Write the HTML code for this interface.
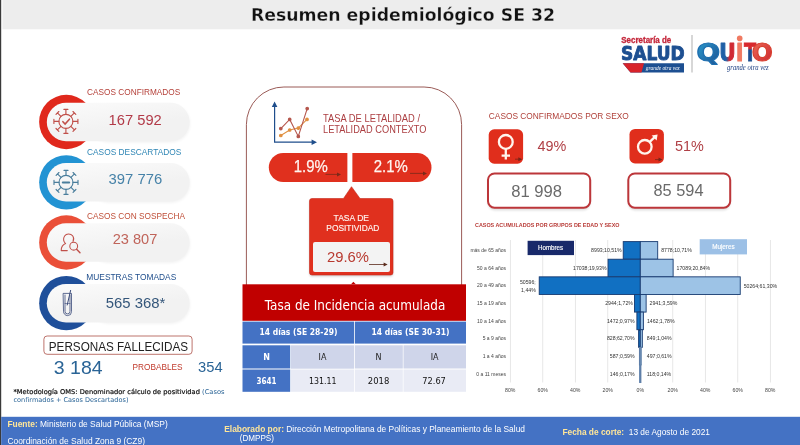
<!DOCTYPE html>
<html lang="es"><head><meta charset="utf-8"><title>Resumen epidemiológico SE 32</title>
<style>
html,body{margin:0;padding:0;background:#fff;}
body{width:800px;height:445px;overflow:hidden;position:relative;}
svg{position:absolute;left:0;top:0;display:block;}
text{white-space:pre;}
</style></head><body>
<svg width="800" height="445" viewBox="0 0 800 445">
<defs>
<filter id="sh" x="-10%" y="-20%" width="120%" height="150%"><feGaussianBlur stdDeviation="1.6"/></filter>
<filter id="sh2" x="-10%" y="-10%" width="120%" height="130%"><feGaussianBlur stdDeviation="1.2"/></filter>
<linearGradient id="pill" x1="0" x2="0.5" y1="0" y2="1"><stop offset="0" stop-color="#fbfbfb"/><stop offset="0.7" stop-color="#f2f2f2"/></linearGradient>
<linearGradient id="ban" x1="0" x2="1" y1="0" y2="0"><stop offset="0" stop-color="#d8232a"/><stop offset="1" stop-color="#c02030"/></linearGradient>
<linearGradient id="qb" x1="0" x2="1" y1="0" y2="1"><stop offset="0" stop-color="#2a9fd0"/><stop offset="1" stop-color="#1d4f91"/></linearGradient>
<linearGradient id="qu" x1="0" x2="1" y1="0" y2="0"><stop offset="0.42" stop-color="#1f5fa6"/><stop offset="0.62" stop-color="#d02a34"/></linearGradient>
<linearGradient id="qt" x1="0" x2="0" y1="0" y2="1"><stop offset="0.36" stop-color="#d8282e"/><stop offset="0.44" stop-color="#1d4f91"/></linearGradient>
<linearGradient id="qr" x1="0" x2="1" y1="0" y2="1"><stop offset="0" stop-color="#f0705a"/><stop offset="1" stop-color="#c8202c"/></linearGradient>
</defs>

<rect x="0" y="0" width="800" height="445" fill="#ffffff"/>
<rect x="2.5" y="0" width="797.5" height="29.3" fill="#ededed"/>
<rect x="0" y="0" width="1.2" height="445" fill="#3a3a3a"/>
<text x="403" y="20.9" font-size="17.3" fill="#111" text-anchor="middle" font-weight="bold" font-family='"DejaVu Sans", "Liberation Sans", sans-serif' textLength="304" lengthAdjust="spacingAndGlyphs" stroke="#ededed" stroke-width="0.28">Resumen epidemiológico SE 32</text>
<text x="621.3" y="43.4" font-size="8.4" fill="#c4263a" text-anchor="start" font-weight="bold" font-family='"Liberation Sans", sans-serif' textLength="50" lengthAdjust="spacingAndGlyphs" stroke="#c4263a" stroke-width="0.3">Secretaría de</text>
<text x="621" y="59.5" font-size="18.9" fill="#1d4f91" text-anchor="start" font-weight="bold" font-family='"DejaVu Sans", "Liberation Sans", sans-serif' textLength="63.6" lengthAdjust="spacingAndGlyphs" stroke="#1d4f91" stroke-width="0.9" stroke-linejoin="round">SALUD</text>
<path d="M622.7 63.2 H684 V72.5 H630.5 Z" fill="#1d4f91"/>
<path d="M622.7 63.2 H644 L641.5 72.500 H630.5 Z" fill="#d8232a"/>
<text x="645.7" y="70.2" font-size="7" fill="#ffffff" text-anchor="start" font-weight="normal" font-family='"Liberation Serif", serif' textLength="34" lengthAdjust="spacingAndGlyphs" font-style="italic">grande otra vez</text>
<rect x="691.5" y="35" width="1" height="37.5" fill="#b0b0b0"/>
<text x="696.4" y="60.7" font-size="24.6" fill="url(#qb)" text-anchor="start" font-weight="bold" font-family='"DejaVu Sans", "Liberation Sans", sans-serif' textLength="23.6" lengthAdjust="spacingAndGlyphs" stroke-width="1.2" stroke-linejoin="round" stroke="#1f6fb0">Q</text>
<text x="719.2" y="60.7" font-size="24.6" fill="url(#qu)" text-anchor="start" font-weight="bold" font-family='"DejaVu Sans", "Liberation Sans", sans-serif' textLength="16.4" lengthAdjust="spacingAndGlyphs" stroke-width="1.2" stroke-linejoin="round" stroke="url(#qu)">U</text>
<text x="736.1" y="60.7" font-size="24.6" fill="#f07a62" text-anchor="start" font-weight="bold" font-family='"DejaVu Sans", "Liberation Sans", sans-serif' textLength="7.4" lengthAdjust="spacingAndGlyphs" stroke-width="1.2" stroke-linejoin="round" stroke="#f07a62">I</text>
<text x="743.9" y="60.7" font-size="24.6" fill="url(#qt)" text-anchor="start" font-weight="bold" font-family='"DejaVu Sans", "Liberation Sans", sans-serif' textLength="12.2" lengthAdjust="spacingAndGlyphs" stroke-width="0.8" stroke="url(#qt)">T</text>
<text x="751.8" y="60.7" font-size="24.6" fill="url(#qr)" text-anchor="start" font-weight="bold" font-family='"DejaVu Sans", "Liberation Sans", sans-serif' textLength="21" lengthAdjust="spacingAndGlyphs" stroke-width="1.2" stroke-linejoin="round" stroke="#d84030">O</text>
<circle cx="739.7" cy="38.4" r="2.8" fill="#f07a62"/>
<text x="727" y="70.3" font-size="8.5" fill="#1d3f81" text-anchor="start" font-weight="normal" font-family='"Liberation Serif", serif' textLength="41.7" lengthAdjust="spacingAndGlyphs" font-style="italic">grande otra vez</text>
<circle cx="66.3" cy="122.0" r="27.15" fill="#e0281c"/>
<rect x="90" y="104.5" width="100" height="38" rx="19" fill="#000" opacity="0.05" filter="url(#sh)"/>
<rect x="46.8" y="102.8" width="142.8" height="38.4" rx="19.2" fill="url(#pill)"/>
<text x="87" y="95.1" font-size="9.2" fill="#b5413a" text-anchor="start" font-weight="normal" font-family='"Liberation Sans", sans-serif' textLength="93.3" lengthAdjust="spacingAndGlyphs" >CASOS CONFIRMADOS</text>
<text x="108.6" y="125.0" font-size="15" fill="#b23a48" text-anchor="start" font-weight="normal" font-family='"Liberation Sans", sans-serif' textLength="53.2" lengthAdjust="spacingAndGlyphs" >167 592</text>
<circle cx="66.3" cy="182.3" r="27.15" fill="#2293d3"/>
<rect x="90" y="164.8" width="100" height="38" rx="19" fill="#000" opacity="0.05" filter="url(#sh)"/>
<rect x="46.8" y="163.1" width="142.8" height="38.4" rx="19.2" fill="url(#pill)"/>
<text x="87" y="154.6" font-size="9.2" fill="#2f86b5" text-anchor="start" font-weight="normal" font-family='"Liberation Sans", sans-serif' textLength="94.3" lengthAdjust="spacingAndGlyphs" >CASOS DESCARTADOS</text>
<text x="108.6" y="183.7" font-size="15" fill="#4682a8" text-anchor="start" font-weight="normal" font-family='"Liberation Sans", sans-serif' textLength="53.6" lengthAdjust="spacingAndGlyphs" >397 776</text>
<circle cx="66.3" cy="242.5" r="27.15" fill="#ea4f38"/>
<rect x="90" y="225.0" width="100" height="38" rx="19" fill="#000" opacity="0.05" filter="url(#sh)"/>
<rect x="46.8" y="223.3" width="142.8" height="38.4" rx="19.2" fill="url(#pill)"/>
<text x="87" y="218.9" font-size="9.2" fill="#c0503a" text-anchor="start" font-weight="normal" font-family='"Liberation Sans", sans-serif' textLength="98" lengthAdjust="spacingAndGlyphs" >CASOS CON SOSPECHA</text>
<text x="112.7" y="243.7" font-size="15" fill="#c0645a" text-anchor="start" font-weight="normal" font-family='"Liberation Sans", sans-serif' textLength="44.7" lengthAdjust="spacingAndGlyphs" >23 807</text>
<circle cx="66.3" cy="303.2" r="27.15" fill="#1f4f9a"/>
<rect x="90" y="285.7" width="100" height="38" rx="19" fill="#000" opacity="0.05" filter="url(#sh)"/>
<rect x="46.8" y="284.0" width="142.8" height="38.4" rx="19.2" fill="url(#pill)"/>
<text x="86.3" y="279.6" font-size="9.2" fill="#1f4e8c" text-anchor="start" font-weight="normal" font-family='"Liberation Sans", sans-serif' textLength="90.0" lengthAdjust="spacingAndGlyphs" >MUESTRAS TOMADAS</text>
<text x="105.8" y="307.5" font-size="15" fill="#34567a" text-anchor="start" font-weight="normal" font-family='"Liberation Sans", sans-serif' textLength="59.6" lengthAdjust="spacingAndGlyphs" >565 368*</text>
<g stroke="#c0504a" stroke-width="1.15" fill="none" stroke-linecap="round">
<circle cx="65.9" cy="121.4" r="7"/>
<path d="M65.90 114.40 L65.90 109.40 M63.90 109.40 L67.90 109.40"/>
<path d="M70.85 116.45 L74.39 112.91 M72.97 111.50 L75.80 114.33"/>
<path d="M72.90 121.40 L77.90 121.40 M77.90 119.40 L77.90 123.40"/>
<path d="M70.85 126.35 L74.39 129.89 M75.80 128.47 L72.97 131.30"/>
<path d="M65.90 128.40 L65.90 133.40 M67.90 133.40 L63.90 133.40"/>
<path d="M60.95 126.35 L57.41 129.89 M58.83 131.30 L56.00 128.47"/>
<path d="M58.90 121.40 L53.90 121.40 M53.90 123.40 L53.90 119.40"/>
<path d="M60.95 116.45 L57.41 112.91 M56.00 114.33 L58.83 111.50"/>
<path d="M62.9 121.7 L65.1 124 L69.4 119.2" stroke-width="1.6"/>
</g>
<g stroke="#4a7e9c" stroke-width="1.15" fill="none" stroke-linecap="round">
<circle cx="66.0" cy="182.4" r="7"/>
<path d="M66.00 175.40 L66.00 170.40 M64.00 170.40 L68.00 170.40"/>
<path d="M70.95 177.45 L74.49 173.91 M73.07 172.50 L75.90 175.33"/>
<path d="M73.00 182.40 L78.00 182.40 M78.00 180.40 L78.00 184.40"/>
<path d="M70.95 187.35 L74.49 190.89 M75.90 189.47 L73.07 192.30"/>
<path d="M66.00 189.40 L66.00 194.40 M68.00 194.40 L64.00 194.40"/>
<path d="M61.05 187.35 L57.51 190.89 M58.93 192.30 L56.10 189.47"/>
<path d="M59.00 182.40 L54.00 182.40 M54.00 184.40 L54.00 180.40"/>
<path d="M61.05 177.45 L57.51 173.91 M56.10 175.33 L58.93 172.50"/>
<path d="M62.8 182.4 H69.2" stroke-width="2"/>
</g>
<g stroke="#c0504a" stroke-width="1.05" fill="none" stroke-linecap="round" stroke-linejoin="round"><path d="M67.3 250.6 H61.2 C61.2 246.5 63 244.6 65.6 243.6 C63.4 242 62.9 238.6 64.6 236 C66.4 233.3 70.6 233.2 72.6 235.8 C73.8 237.4 74 239.6 73 241.4"/><circle cx="73.7" cy="246.2" r="3.9"/><path d="M76.6 249.2 L80 252.8" stroke-width="1.4"/></g>
<g stroke="#3a4a7a" stroke-width="0.8" fill="none" stroke-linecap="round"><path d="M63.5 293.4 H71.5 V311.6 A4 4 0 0 1 63.5 311.6 Z"/><path d="M65 295 V311.4 A2.5 2.5 0 0 0 70 311.4 V295"/><path d="M70.6 290.4 L67.2 305" stroke-width="1"/><path d="M65 303.5 H70" stroke-width="0.6"/></g>
<rect x="43.9" y="336" width="148.2" height="18.3" rx="3.2" fill="#fff" stroke="#b5645c" stroke-width="0.9"/>
<text x="48.8" y="351.2" font-size="12" fill="#222" text-anchor="start" font-weight="normal" font-family='"Liberation Sans", sans-serif' textLength="139.2" lengthAdjust="spacingAndGlyphs" >PERSONAS FALLECIDAS</text>
<text x="53.8" y="373.6" font-size="18.2" fill="#2a6496" text-anchor="start" font-weight="normal" font-family='"Liberation Sans", sans-serif' textLength="48.8" lengthAdjust="spacingAndGlyphs" >3 184</text>
<text x="132.5" y="370" font-size="8.3" fill="#c0392b" text-anchor="start" font-weight="normal" font-family='"Liberation Sans", sans-serif' textLength="50" lengthAdjust="spacingAndGlyphs" >PROBABLES</text>
<text x="198" y="372.4" font-size="15" fill="#2a6496" text-anchor="start" font-weight="normal" font-family='"Liberation Sans", sans-serif' textLength="24.6" lengthAdjust="spacingAndGlyphs" >354</text>
<text x="13.5" y="393.8" font-size="6.6" font-family='"DejaVu Sans", "Liberation Sans", sans-serif' fill="#111" stroke="#111" stroke-width="0.2" textLength="211" lengthAdjust="spacingAndGlyphs">*Metodología OMS: Denominador cálculo de positividad <tspan fill="#2a6496" stroke="none">(Casos</tspan></text>
<text x="13.5" y="402.4" font-size="6.6" fill="#2a6496" text-anchor="start" font-weight="normal" font-family='"DejaVu Sans", "Liberation Sans", sans-serif' textLength="115" lengthAdjust="spacingAndGlyphs" >confirmados + Casos Descartados)</text>
<path d="M246.4 300 V124.5 A37.5 37.5 0 0 1 283.9 87 H424.1 A37.5 37.5 0 0 1 461.6 124.5 V300" fill="none" stroke="#8f4844" stroke-width="0.9"/>
<g stroke="#1f4e8c" stroke-width="1.2" fill="none"><path d="M274.6 105 V142.2 H313"/></g>
<path d="M274.6 101.6 L277.4 107 H271.8 Z M317 142.2 L311.6 139.4 V145 Z" fill="#1f4e8c"/>
<g stroke="#e09040" stroke-width="1.1" fill="#e09040"><path d="M280.8 135.5 L289.7 130 L298.3 128.1 L307 119.4" fill="none"/><circle cx="280.8" cy="135.5" r="1.3"/><circle cx="289.7" cy="130" r="1.3"/><circle cx="298.3" cy="128.1" r="1.3"/><circle cx="307" cy="119.4" r="1.3"/></g>
<g stroke="#b5564c" stroke-width="1.1" fill="#b5564c"><path d="M280.8 128.6 L289.7 119.4 L298.3 136.4 L307.2 108.6" fill="none"/><circle cx="280.8" cy="128.6" r="1.3"/><circle cx="289.7" cy="119.4" r="1.3"/><circle cx="298.3" cy="136.4" r="1.3"/><circle cx="307.2" cy="108.6" r="1.3"/></g>
<text x="323" y="122.4" font-size="10.8" fill="#ac3f42" text-anchor="start" font-weight="normal" font-family='"Liberation Sans", sans-serif' textLength="97" lengthAdjust="spacingAndGlyphs" >TASA DE LETALIDAD /</text>
<text x="323" y="133.4" font-size="10.8" fill="#ac3f42" text-anchor="start" font-weight="normal" font-family='"Liberation Sans", sans-serif' textLength="103.5" lengthAdjust="spacingAndGlyphs" >LETALIDAD CONTEXTO</text>
<path d="M283.2 153.1 H347.4 V181.9 H283.2 A14.4 14.4 0 0 1 283.2 153.1 Z" fill="#e0301e"/>
<path d="M352.4 153.1 H417.1 A14.4 14.4 0 0 1 417.1 181.9 H352.4 Z" fill="#e0301e"/>
<text x="293.8" y="172.2" font-size="16" fill="#fff5f0" text-anchor="start" font-weight="normal" font-family='"Liberation Sans", sans-serif' textLength="34" lengthAdjust="spacingAndGlyphs" stroke="#fff5f0" stroke-width="0.25">1.9%</text>
<text x="373.8" y="172.2" font-size="16" fill="#fff5f0" text-anchor="start" font-weight="normal" font-family='"Liberation Sans", sans-serif' textLength="34" lengthAdjust="spacingAndGlyphs" stroke="#fff5f0" stroke-width="0.25">2.1%</text>
<path d="M325.5 174.4 H338" stroke="#7a2a1a" stroke-width="0.8" fill="none"/><path d="M341 174.4 L337 172.4 V176.4 Z" fill="#7a2a1a"/>
<path d="M410 173.4 H424" stroke="#7a2a1a" stroke-width="0.8" fill="none"/><path d="M427 173.4 L423 171.4 V175.4 Z" fill="#7a2a1a"/>
<path d="M312 199 H343.5 L351.5 187.2 L360 199 H390.5 A2.5 2.5 0 0 1 393 201.5 V273 A2.5 2.5 0 0 1 390.5 275.5 H312 A2.5 2.5 0 0 1 309.5 273 V201.5 A2.5 2.5 0 0 1 312 199 Z" fill="#000" opacity="0.18" filter="url(#sh2)" transform="translate(0,1)"/>
<path d="M312 198.5 H343.5 L351.5 186.700 L360 198.5 H390.5 A2.5 2.5 0 0 1 393 201 V272.5 A2.5 2.5 0 0 1 390.5 275 H312 A2.5 2.5 0 0 1 309.5 272.500 V201 A2.5 2.5 0 0 1 312 198.5 Z" fill="#e0301e" stroke="#c8281a" stroke-width="0.6"/>
<text x="351.3" y="220.6" font-size="9.2" fill="#fff5f0" text-anchor="middle" font-weight="normal" font-family='"Liberation Sans", sans-serif' textLength="35.5" lengthAdjust="spacingAndGlyphs" stroke="#fff5f0" stroke-width="0.15">TASA DE</text>
<text x="352.8" y="230.5" font-size="9.2" fill="#fff5f0" text-anchor="middle" font-weight="normal" font-family='"Liberation Sans", sans-serif' textLength="53" lengthAdjust="spacingAndGlyphs" stroke="#fff5f0" stroke-width="0.15">POSITIVIDAD</text>
<rect x="313" y="242" width="77" height="30" rx="2" fill="#f3f3f3"/>
<text x="327" y="261.6" font-size="15" fill="#b83a30" text-anchor="start" font-weight="normal" font-family='"Liberation Sans", sans-serif' textLength="42" lengthAdjust="spacingAndGlyphs" >29.6%</text>
<path d="M369 264.5 H384.6" stroke="#5a2a1a" stroke-width="0.8" fill="none"/><path d="M387.6 264.5 L383.6 262.5 V266.5 Z" fill="#5a2a1a"/>
<rect x="242.5" y="284.3" width="223.5" height="36.5" fill="#c00000"/>
<path d="M351 284.3 L353.4 281.8 L355.8 284.3 Z" fill="#c00000"/>
<text x="355" y="309.5" font-size="13.4" fill="#ffffff" text-anchor="middle" font-weight="normal" font-family='"DejaVu Sans", "Liberation Sans", sans-serif' textLength="180.5" lengthAdjust="spacingAndGlyphs" >Tasa de Incidencia acumulada</text>
<rect x="242.5" y="321.6" width="111.5" height="22" fill="#4472c4"/><rect x="354.8" y="321.6" width="111.2" height="22" fill="#4472c4"/>
<text x="298.5" y="335.4" font-size="8.5" fill="#fff" text-anchor="middle" font-weight="bold" font-family='"DejaVu Sans", "Liberation Sans", sans-serif' textLength="78" lengthAdjust="spacingAndGlyphs" >14 días (SE 28-29)</text>
<text x="410.5" y="335.4" font-size="8.5" fill="#fff" text-anchor="middle" font-weight="bold" font-family='"DejaVu Sans", "Liberation Sans", sans-serif' textLength="78" lengthAdjust="spacingAndGlyphs" >14 días (SE 30-31)</text>
<rect x="242.5" y="345.3" width="47.7" height="23.2" fill="#4472c4"/><rect x="290.9" y="345.3" width="63.1" height="23.4" fill="#cfd5ea"/><rect x="354.8" y="345.3" width="48" height="23.2" fill="#cfd5ea"/><rect x="403.5" y="345.3" width="62.5" height="23.2" fill="#cfd5ea"/>
<rect x="242.5" y="369.5" width="47.7" height="22.3" fill="#4472c4"/><rect x="290.9" y="369.5" width="63.1" height="22.3" fill="#e9ebf5"/><rect x="354.8" y="369.5" width="48" height="22.3" fill="#e9ebf5"/><rect x="403.5" y="369.5" width="62.5" height="22.3" fill="#e9ebf5"/>
<text x="266.5" y="359.6" font-size="8" fill="#fff" text-anchor="middle" font-weight="bold" font-family='"DejaVu Sans", "Liberation Sans", sans-serif' >N</text>
<text x="322.5" y="359.6" font-size="8" fill="#222" text-anchor="middle" font-weight="normal" font-family='"DejaVu Sans", "Liberation Sans", sans-serif' >IA</text>
<text x="378.6" y="359.6" font-size="8" fill="#222" text-anchor="middle" font-weight="normal" font-family='"DejaVu Sans", "Liberation Sans", sans-serif' >N</text>
<text x="434.6" y="359.6" font-size="8" fill="#222" text-anchor="middle" font-weight="normal" font-family='"DejaVu Sans", "Liberation Sans", sans-serif' >IA</text>
<text x="266.4" y="383.6" font-size="8" fill="#fff" text-anchor="middle" font-weight="bold" font-family='"DejaVu Sans", "Liberation Sans", sans-serif' textLength="20" lengthAdjust="spacingAndGlyphs" >3641</text>
<text x="322.7" y="383.6" font-size="8" fill="#111" text-anchor="middle" font-weight="normal" font-family='"DejaVu Sans", "Liberation Sans", sans-serif' textLength="27.5" lengthAdjust="spacingAndGlyphs" >131.11</text>
<text x="378.5" y="383.6" font-size="8" fill="#111" text-anchor="middle" font-weight="normal" font-family='"DejaVu Sans", "Liberation Sans", sans-serif' textLength="21.5" lengthAdjust="spacingAndGlyphs" >2018</text>
<text x="434.1" y="383.6" font-size="8" fill="#111" text-anchor="middle" font-weight="normal" font-family='"DejaVu Sans", "Liberation Sans", sans-serif' textLength="23.5" lengthAdjust="spacingAndGlyphs" >72.67</text>
<text x="488.8" y="118.6" font-size="9" fill="#b0413a" text-anchor="start" font-weight="normal" font-family='"Liberation Sans", sans-serif' textLength="140" lengthAdjust="spacingAndGlyphs" >CASOS CONFIRMADOS POR SEXO</text>
<rect x="488.7" y="129.3" width="34.4" height="34.4" rx="5.5" fill="#e02e1c"/>
<g stroke="#fff5ee" stroke-width="2.3" fill="none"><circle cx="505.8" cy="141.9" r="6.9"/><path d="M505.8 148.8 V159.4 M501.6 155.7 H510"/></g>
<path d="M515 159.2 H519.3" stroke="#7a2418" stroke-width="0.8" fill="none"/><path d="M522.3 159.2 L518.3 157.2 V161.2 Z" fill="#7a2418"/>
<rect x="629.5" y="129" width="34.4" height="34.4" rx="5.5" fill="#e02e1c"/>
<g stroke="#fff5ee" stroke-width="2.3" fill="none"><circle cx="644.8" cy="146.8" r="6.8"/><path d="M649.7 141.9 L655.2 136.6"/></g>
<path d="M657.6 134.4 L656.6 140.4 L651.6 135.4 Z" fill="#fff5ee"/>
<path d="M655 159.6 H659.5" stroke="#7a2418" stroke-width="0.8" fill="none"/><path d="M662.5 159.6 L658.5 157.6 V161.6 Z" fill="#7a2418"/>
<text x="537.5" y="150.7" font-size="15.2" fill="#b04046" text-anchor="start" font-weight="normal" font-family='"Liberation Sans", sans-serif' textLength="28.8" lengthAdjust="spacingAndGlyphs" >49%</text>
<text x="675" y="150.7" font-size="15.2" fill="#b04046" text-anchor="start" font-weight="normal" font-family='"Liberation Sans", sans-serif' textLength="28.8" lengthAdjust="spacingAndGlyphs" >51%</text>
<rect x="488" y="174.5" width="102.20000000000005" height="36" rx="7" fill="#000" opacity="0.12" filter="url(#sh2)"/>
<rect x="488" y="173.500" width="102.2" height="34.2" rx="6.5" fill="#fff" stroke="#bc363a" stroke-width="2"/>
<text x="511.2" y="196.8" font-size="16.2" fill="#6a6a6a" text-anchor="start" font-weight="normal" font-family='"Liberation Sans", sans-serif' textLength="50.8" lengthAdjust="spacingAndGlyphs" >81 998</text>
<rect x="628.3" y="174.5" width="101.90000000000009" height="36" rx="7" fill="#000" opacity="0.12" filter="url(#sh2)"/>
<rect x="628.3" y="173.500" width="101.9" height="34.2" rx="6.5" fill="#fff" stroke="#bc363a" stroke-width="2"/>
<text x="653.5" y="195.9" font-size="15.8" fill="#6a6a6a" text-anchor="start" font-weight="normal" font-family='"Liberation Sans", sans-serif' textLength="50.0" lengthAdjust="spacingAndGlyphs" >85 594</text>
<text x="475" y="226.9" font-size="5.4" fill="#b83a36" text-anchor="start" font-weight="bold" font-family='"Liberation Sans", sans-serif' textLength="144.5" lengthAdjust="spacingAndGlyphs" >CASOS ACUMULADOS POR GRUPOS DE EDAD Y SEXO</text>
<rect x="509.95" y="240" width="0.7" height="142.5" fill="#dcdcdc"/>
<rect x="542.45" y="240" width="0.7" height="142.5" fill="#dcdcdc"/>
<rect x="574.95" y="240" width="0.7" height="142.5" fill="#dcdcdc"/>
<rect x="607.45" y="240" width="0.7" height="142.5" fill="#dcdcdc"/>
<rect x="672.45" y="240" width="0.7" height="142.5" fill="#dcdcdc"/>
<rect x="704.95" y="240" width="0.7" height="142.5" fill="#dcdcdc"/>
<rect x="737.45" y="240" width="0.7" height="142.5" fill="#dcdcdc"/>
<rect x="769.95" y="240" width="0.7" height="142.5" fill="#dcdcdc"/>
<text x="506" y="252.2" font-size="5.0" fill="#444" text-anchor="end" font-weight="normal" font-family='"Liberation Sans", sans-serif' >más de 65 años</text>
<rect x="623.22" y="241.60" width="17.08" height="17.62" fill="#1170c2" stroke="#173a70" stroke-width="0.9"/>
<rect x="640.30" y="241.60" width="17.40" height="17.62" fill="#9dc3e6" stroke="#173a70" stroke-width="0.9"/>
<text x="621.7" y="252.3" font-size="5.2" fill="#333" text-anchor="end" font-weight="normal" font-family='"Liberation Sans", sans-serif' >8993;10,51%</text>
<text x="661.2" y="252.3" font-size="5.2" fill="#333" text-anchor="start" font-weight="normal" font-family='"Liberation Sans", sans-serif' >8778;10,71%</text>
<text x="506" y="269.8" font-size="5.0" fill="#444" text-anchor="end" font-weight="normal" font-family='"Liberation Sans", sans-serif' >50 a 64 años</text>
<rect x="608.04" y="259.22" width="32.26" height="17.62" fill="#1170c2" stroke="#173a70" stroke-width="0.9"/>
<rect x="640.30" y="259.22" width="32.82" height="17.62" fill="#9dc3e6" stroke="#173a70" stroke-width="0.9"/>
<text x="606.5" y="269.9" font-size="5.2" fill="#333" text-anchor="end" font-weight="normal" font-family='"Liberation Sans", sans-serif' >17038;19,93%</text>
<text x="676.6" y="269.9" font-size="5.2" fill="#333" text-anchor="start" font-weight="normal" font-family='"Liberation Sans", sans-serif' >17089;20,84%</text>
<text x="506" y="287.4" font-size="5.0" fill="#444" text-anchor="end" font-weight="normal" font-family='"Liberation Sans", sans-serif' >20 a 49 años</text>
<rect x="539.22" y="276.84" width="101.08" height="17.62" fill="#1170c2" stroke="#173a70" stroke-width="0.9"/>
<rect x="640.30" y="276.84" width="99.94" height="17.62" fill="#9dc3e6" stroke="#173a70" stroke-width="0.9"/>
<text x="743.7" y="287.5" font-size="5.2" fill="#333" text-anchor="start" font-weight="normal" font-family='"Liberation Sans", sans-serif' >50264;61,30%</text>
<text x="506" y="305.1" font-size="5.0" fill="#444" text-anchor="end" font-weight="normal" font-family='"Liberation Sans", sans-serif' >15 a 19 años</text>
<rect x="634.45" y="294.46" width="5.85" height="17.62" fill="#1170c2" stroke="#173a70" stroke-width="0.9"/>
<rect x="640.30" y="294.46" width="5.83" height="17.62" fill="#9dc3e6" stroke="#173a70" stroke-width="0.9"/>
<text x="632.9" y="305.2" font-size="5.2" fill="#333" text-anchor="end" font-weight="normal" font-family='"Liberation Sans", sans-serif' >2944;1,72%</text>
<text x="649.6" y="305.2" font-size="5.2" fill="#333" text-anchor="start" font-weight="normal" font-family='"Liberation Sans", sans-serif' >2941;3,59%</text>
<text x="506" y="322.7" font-size="5.0" fill="#444" text-anchor="end" font-weight="normal" font-family='"Liberation Sans", sans-serif' >10 a 14 años</text>
<rect x="636.89" y="312.08" width="3.41" height="17.62" fill="#1170c2" stroke="#173a70" stroke-width="0.9"/>
<rect x="640.30" y="312.08" width="3.09" height="17.62" fill="#9dc3e6" stroke="#173a70" stroke-width="0.9"/>
<text x="634.6" y="322.8" font-size="5.2" fill="#333" text-anchor="end" font-weight="normal" font-family='"Liberation Sans", sans-serif' >1472;0,97%</text>
<text x="646.9" y="322.8" font-size="5.2" fill="#333" text-anchor="start" font-weight="normal" font-family='"Liberation Sans", sans-serif' >1462;1,78%</text>
<text x="506" y="340.3" font-size="5.0" fill="#444" text-anchor="end" font-weight="normal" font-family='"Liberation Sans", sans-serif' >5 a 9 años</text>
<rect x="638.59" y="329.70" width="1.71" height="17.62" fill="#1170c2" stroke="#173a70" stroke-width="0.9"/>
<rect x="640.30" y="329.70" width="2.03" height="17.62" fill="#9dc3e6" stroke="#173a70" stroke-width="0.9"/>
<text x="634.6" y="340.4" font-size="5.2" fill="#333" text-anchor="end" font-weight="normal" font-family='"Liberation Sans", sans-serif' >828;62,70%</text>
<text x="646.8" y="340.4" font-size="5.2" fill="#333" text-anchor="start" font-weight="normal" font-family='"Liberation Sans", sans-serif' >849;1,04%</text>
<text x="506" y="357.9" font-size="5.0" fill="#444" text-anchor="end" font-weight="normal" font-family='"Liberation Sans", sans-serif' >1 a 4 años</text>
<rect x="639.41" y="347.32" width="0.89" height="17.62" fill="#1170c2" stroke="#5f7fa8" stroke-width="0.9"/>
<rect x="640.30" y="347.32" width="0.99" height="17.62" fill="#9dc3e6" stroke="#5f7fa8" stroke-width="0.9"/>
<text x="634.6" y="358.0" font-size="5.2" fill="#333" text-anchor="end" font-weight="normal" font-family='"Liberation Sans", sans-serif' >587;0,59%</text>
<text x="646.8" y="358.0" font-size="5.2" fill="#333" text-anchor="start" font-weight="normal" font-family='"Liberation Sans", sans-serif' >497;0,61%</text>
<text x="506" y="375.6" font-size="5.0" fill="#444" text-anchor="end" font-weight="normal" font-family='"Liberation Sans", sans-serif' >0 a 11 meses</text>
<rect x="639.65" y="364.94" width="0.65" height="17.62" fill="#1170c2" stroke="#5f7fa8" stroke-width="0.9"/>
<rect x="640.30" y="364.94" width="0.65" height="17.62" fill="#9dc3e6" stroke="#5f7fa8" stroke-width="0.9"/>
<text x="634.6" y="375.6" font-size="5.2" fill="#333" text-anchor="end" font-weight="normal" font-family='"Liberation Sans", sans-serif' >146;0,17%</text>
<text x="646.8" y="375.6" font-size="5.2" fill="#333" text-anchor="start" font-weight="normal" font-family='"Liberation Sans", sans-serif' >118;0,14%</text>
<text x="535.8" y="284.2" font-size="5.2" fill="#333" text-anchor="end" font-weight="normal" font-family='"Liberation Sans", sans-serif' >50596;</text>
<text x="535.8" y="291.6" font-size="5.2" fill="#333" text-anchor="end" font-weight="normal" font-family='"Liberation Sans", sans-serif' >1,44%</text>
<text x="510.3" y="391.6" font-size="5.2" fill="#444" text-anchor="middle" font-weight="normal" font-family='"Liberation Sans", sans-serif' >80%</text>
<text x="542.8" y="391.6" font-size="5.2" fill="#444" text-anchor="middle" font-weight="normal" font-family='"Liberation Sans", sans-serif' >60%</text>
<text x="575.3" y="391.6" font-size="5.2" fill="#444" text-anchor="middle" font-weight="normal" font-family='"Liberation Sans", sans-serif' >40%</text>
<text x="607.8" y="391.6" font-size="5.2" fill="#444" text-anchor="middle" font-weight="normal" font-family='"Liberation Sans", sans-serif' >20%</text>
<text x="640.3" y="391.6" font-size="5.2" fill="#444" text-anchor="middle" font-weight="normal" font-family='"Liberation Sans", sans-serif' >0%</text>
<text x="672.8" y="391.6" font-size="5.2" fill="#444" text-anchor="middle" font-weight="normal" font-family='"Liberation Sans", sans-serif' >20%</text>
<text x="705.3" y="391.6" font-size="5.2" fill="#444" text-anchor="middle" font-weight="normal" font-family='"Liberation Sans", sans-serif' >40%</text>
<text x="737.8" y="391.6" font-size="5.2" fill="#444" text-anchor="middle" font-weight="normal" font-family='"Liberation Sans", sans-serif' >60%</text>
<text x="770.3" y="391.6" font-size="5.2" fill="#444" text-anchor="middle" font-weight="normal" font-family='"Liberation Sans", sans-serif' >80%</text>
<rect x="527.6" y="240.8" width="46.4" height="14.3" fill="#18296a"/>
<text x="550.6" y="249.9" font-size="6.8" fill="#ffffff" text-anchor="middle" font-weight="normal" font-family='"Liberation Sans", sans-serif' textLength="25" lengthAdjust="spacingAndGlyphs" stroke="#fff" stroke-width="0.15">Hombres</text>
<rect x="699.7" y="239.2" width="47.3" height="15.2" fill="#9cc0e6"/>
<text x="723.4" y="249.2" font-size="6.8" fill="#ffffff" text-anchor="middle" font-weight="normal" font-family='"Liberation Sans", sans-serif' textLength="22.5" lengthAdjust="spacingAndGlyphs" stroke="#fff" stroke-width="0.15">Mujeres</text>
<rect x="1.2" y="416.8" width="798.8" height="28.2" fill="#4472c4"/>
<text x="7.4" y="427.3" font-size="8.6" font-family='"Liberation Sans", sans-serif' fill="#fff" textLength="160.3" lengthAdjust="spacingAndGlyphs"><tspan fill="#ffe699" font-weight="bold">Fuente:</tspan> Ministerio de Salud Pública (MSP)</text>
<text x="7.4" y="444.2" font-size="8.6" fill="#fff" text-anchor="start" font-weight="normal" font-family='"Liberation Sans", sans-serif' textLength="137.6" lengthAdjust="spacingAndGlyphs" >Coordinación de Salud Zona 9 (CZ9)</text>
<text x="224.2" y="432.4" font-size="8.6" font-family='"Liberation Sans", sans-serif' fill="#fff" textLength="300.8" lengthAdjust="spacingAndGlyphs"><tspan fill="#ffe699" font-weight="bold">Elaborado por:</tspan> Dirección Metropolitana de Políticas y Planeamiento de la Salud</text>
<text x="239.7" y="440.8" font-size="8.6" fill="#fff" text-anchor="start" font-weight="normal" font-family='"Liberation Sans", sans-serif' textLength="34.3" lengthAdjust="spacingAndGlyphs" >(DMPPS)</text>
<text x="562.4" y="435.1" font-size="8.6" font-family='"Liberation Sans", sans-serif' fill="#fff" textLength="147.6" lengthAdjust="spacingAndGlyphs"><tspan fill="#ffe699" font-weight="bold">Fecha de corte:</tspan>  13 de Agosto de 2021</text>
</svg></body></html>
